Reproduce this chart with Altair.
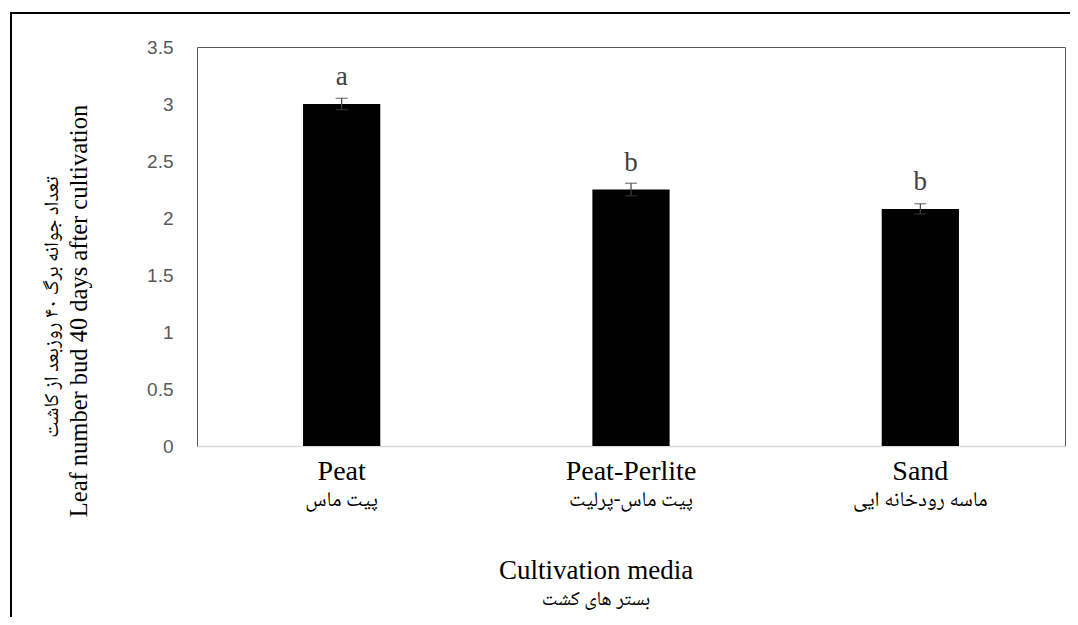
import altair as alt
import pandas as pd

media = ["Peat", "Peat-Perlite", "Sand"]
media_fa = ["پیت ماس", "پیت ماس-پرلیت", "ماسه رودخانه ایی"]
means = [3.0, 2.25, 2.08]
errors = [0.05, 0.055, 0.045]
letters = ["a", "b", "b"]
y_ticks = [0, 0.5, 1, 1.5, 2, 2.5, 3, 3.5]

x_title_en = "Cultivation media"
x_title_fa = "بستر  های کشت"
y_title_en = "Leaf number bud 40 days after cultivation"
y_title_fa = "تعداد جوانه برگ ۴۰ روزبعد از کاشت"

df = pd.DataFrame({
    "media": media,
    "media_fa": media_fa,
    "mean": means,
    "lo": [m - e for m, e in zip(means, errors)],
    "hi": [m + e for m, e in zip(means, errors)],
    "letter": letters,
})
one = pd.DataFrame({"k": [0]})

W, H = 868, 399
SERIF = "Liberation Serif"
FA = "Noto Naskh Arabic, Noto Sans Arabic, Amiri, Liberation Serif"

xenc = alt.X("media:N", sort=media,
             scale=alt.Scale(paddingInner=0.733, paddingOuter=0.3665),
             axis=alt.Axis(title=None, labelAngle=0, labelFont=SERIF, labelFontSize=28,
                           labelColor="#000000", labelPadding=11, ticks=False,
                           domainColor="#d9d9d9", domainWidth=1.5))
yenc = alt.Y("mean:Q", scale=alt.Scale(domain=[0, 3.5], nice=False),
             axis=alt.Axis(title=None, values=y_ticks, format="~g", grid=False,
                           domain=False, ticks=False, labelFont="Liberation Sans",
                           labelFontSize=19, labelColor="#595959", labelPadding=24))

base = alt.Chart(df)

bars = base.mark_bar(color="#000000").encode(x=xenc, y=yenc)
rules = base.mark_rule(color="#404040", strokeWidth=1.2).encode(
    x=alt.X("media:N", sort=media), y="lo:Q", y2="hi:Q")
caps_lo = base.mark_tick(color="#404040", size=12, thickness=1.2, orient="horizontal").encode(
    x=alt.X("media:N", sort=media), y="lo:Q")
caps_hi = base.mark_tick(color="#404040", size=12, thickness=1.2, orient="horizontal").encode(
    x=alt.X("media:N", sort=media), y="hi:Q")
lett = base.mark_text(font=SERIF, fontSize=27, color="#404040", baseline="alphabetic", dy=-19).encode(
    x=alt.X("media:N", sort=media), y="mean:Q", text="letter:N")
fa_labels = base.mark_text(font=FA, fontSize=21, color="#000000", baseline="middle").encode(
    x=alt.X("media:N", sort=media), y=alt.value(H + 54), text="media_fa:N")

t = alt.Chart(one)
xt_en = t.mark_text(text=x_title_en, font=SERIF, fontSize=27, color="#000000",
                    baseline="middle").encode(x=alt.value(399), y=alt.value(H + 125))
xt_fa = t.mark_text(text=x_title_fa, font=FA, fontSize=20, color="#000000",
                    baseline="middle").encode(x=alt.value(399), y=alt.value(H + 153))
yt_en = t.mark_text(text=y_title_en, font=SERIF, fontSize=24.5, color="#000000",
                    baseline="middle", angle=270).encode(x=alt.value(-117), y=alt.value(264))
yt_fa = t.mark_text(text=y_title_fa, font=FA, fontSize=20.5, color="#000000",
                    baseline="middle", angle=270).encode(x=alt.value(-145), y=alt.value(260))

frame_left = t.mark_rule(color="#000000", strokeWidth=2).encode(
    x=alt.value(-186), y=alt.value(-35), y2=alt.value(620))
frame_top = t.mark_rule(color="#000000", strokeWidth=2).encode(
    x=alt.value(-187), x2=alt.value(900), y=alt.value(-34))

chart = alt.layer(bars, rules, caps_lo, caps_hi, lett, fa_labels,
                  xt_en, xt_fa, yt_en, yt_fa, frame_left, frame_top).properties(
    width=W, height=H,
    autosize=alt.AutoSizeParams(type="none"),
    padding={"left": 189, "top": 39, "right": 5, "bottom": 171},
    background="#ffffff",
).configure_view(stroke="#595959", strokeWidth=1)

chart.save("out.html", embed_options={"renderer": "svg", "actions": False})
